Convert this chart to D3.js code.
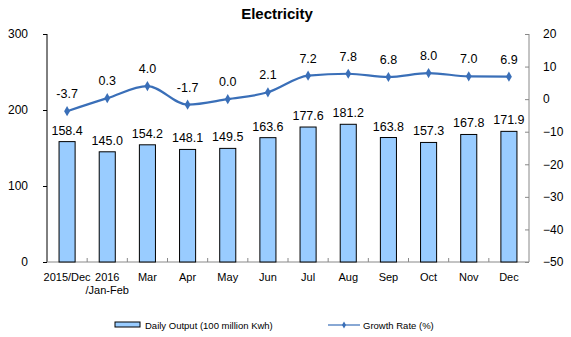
<!DOCTYPE html>
<html><head><meta charset="utf-8">
<script src="https://cdn.jsdelivr.net/npm/d3@7"></script>
<style>body{margin:0;background:#fff}svg{display:block;font-family:"Liberation Sans",Arial,sans-serif}</style>
</head><body>
<svg id="c" width="571" height="337"></svg>
<script>
const categories = ["2015/Dec", "2016\n/Jan-Feb", "Mar", "Apr", "May", "Jun", "Jul", "Aug", "Sep", "Oct", "Nov", "Dec"];
const dailyOutput = [158.4, 145.0, 154.2, 148.1, 149.5, 163.6, 177.6, 181.2, 163.8, 157.3, 167.8, 171.9];
const growthRate = [-3.7, 0.3, 4.0, -1.7, 0.0, 2.1, 7.2, 7.8, 6.8, 8.0, 7.0, 6.9];
const leftTicks = [0, 100, 200, 300];
const rightTicks = [20, 10, 0, -10, -20, -30, -40, -50];

const svg = d3.select("#c");
const L = 47, R = 529, T = 34, B = 262;
const x = d3.scaleBand().domain(categories).range([L, R]);
const yL = d3.scaleLinear().domain([0, 300]).range([B, T]);
const yR = d3.scaleLinear().domain([-50, 20]).range([B, T]);

svg.append("text").attr("x", 277).attr("y", 19).attr("text-anchor", "middle")
  .attr("font-size", 15).attr("font-weight", "bold").text("Electricity");

// left axis
const ga = svg.append("g").attr("transform", `translate(${L},0)`)
  .call(d3.axisLeft(yL).tickValues(leftTicks).tickSize(4).tickPadding(15).tickFormat(d3.format("d")));
ga.select(".domain").attr("stroke", "#000").attr("d", `M0,${T}V${B}`);
ga.selectAll("text").attr("font-size", 12).attr("fill", "#000").attr("font-family", "Liberation Sans, Arial");

// right axis
const gr = svg.append("g").attr("transform", `translate(${R},0)`)
  .call(d3.axisRight(yR).tickValues(rightTicks).tickSize(-4).tickPadding(14).tickFormat(d3.format("d")));
gr.select(".domain").attr("stroke", "#888").attr("d", `M0,${T}V${B}`);
gr.selectAll(".tick line").attr("stroke", "#888");
gr.selectAll("text").attr("font-size", 12).attr("fill", "#000").attr("font-family", "Liberation Sans, Arial");

// x axis
svg.append("line").attr("x1", L).attr("x2", R).attr("y1", B).attr("y2", B).attr("stroke", "#888");
svg.selectAll(".xt").data(categories.slice(1)).enter().append("line")
  .attr("x1", d => x(d)).attr("x2", d => x(d)).attr("y1", B).attr("y2", B - 4).attr("stroke", "#888");
const xl = svg.selectAll(".xl").data(categories).enter().append("text")
  .attr("text-anchor", "middle").attr("font-size", 11)
  .attr("transform", d => `translate(${x(d) + x.bandwidth() / 2},${B + 19})`);
xl.each(function (d) {
  d.split("\n").forEach((s, i) => d3.select(this).append("tspan").attr("x", 0).attr("y", i * 13).text(s));
});

// bars
const bw = x.bandwidth() * 0.4;
svg.selectAll(".bar").data(dailyOutput).enter().append("rect")
  .attr("x", (d, i) => x(categories[i]) + (x.bandwidth() - bw) / 2)
  .attr("y", d => yL(d)).attr("width", bw).attr("height", d => B - yL(d))
  .attr("fill", "#99ccff").attr("stroke", "#000").attr("stroke-width", 1);
svg.selectAll(".bl").data(dailyOutput).enter().append("text")
  .attr("x", (d, i) => x(categories[i]) + x.bandwidth() / 2).attr("y", d => yL(d) - 7)
  .attr("text-anchor", "middle").attr("font-size", 12.5).text(d => d.toFixed(1));

// line
const cx = i => x(categories[i]) + x.bandwidth() / 2;
const line = d3.line().x((d, i) => cx(i)).y(d => yR(d)).curve(d3.curveMonotoneX);
svg.append("path").datum(growthRate).attr("d", line).attr("fill", "none")
  .attr("stroke", "#3a6fb8").attr("stroke-width", 2.2);
svg.selectAll(".pt").data(growthRate).enter().append("path")
  .attr("d", d3.symbol(d3.symbolDiamond, 30))
  .attr("transform", (d, i) => `translate(${cx(i)},${yR(d)})`).attr("fill", "#3a6fb8");
svg.selectAll(".gl").data(growthRate).enter().append("text")
  .attr("x", (d, i) => cx(i)).attr("y", d => yR(d) - 13)
  .attr("text-anchor", "middle").attr("font-size", 12.5).text(d => d.toFixed(1));

// legend
svg.append("rect").attr("x", 115).attr("y", 322).attr("width", 25).attr("height", 5)
  .attr("fill", "#99ccff").attr("stroke", "#000");
svg.append("text").attr("x", 145).attr("y", 329).attr("font-size", 9.5).text("Daily Output (100 million Kwh)");
svg.append("line").attr("x1", 328).attr("x2", 360).attr("y1", 325).attr("y2", 325).attr("stroke", "#3a6fb8").attr("stroke-width", 1.2);
svg.append("path").attr("d", d3.symbol(d3.symbolDiamond, 14)).attr("transform", "translate(344,325)").attr("fill", "#3a6fb8");
svg.append("text").attr("x", 363).attr("y", 329).attr("font-size", 9.5).text("Growth Rate (%)");
</script>
</body></html>
